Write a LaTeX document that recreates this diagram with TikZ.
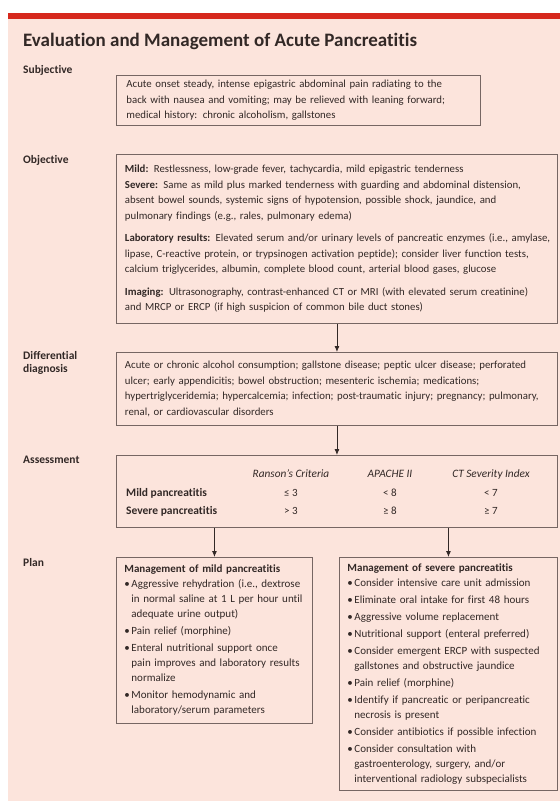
\documentclass[tikz,border=0pt]{standalone}
\usepackage{fontspec}
\setmainfont{Carlito}[Ligatures=NoCommon]
\usetikzlibrary{arrows.meta}
\definecolor{pinkbg}{RGB}{252,228,220}
\definecolor{redbar}{RGB}{214,40,28}
\definecolor{boxline}{RGB}{118,102,99}
\definecolor{inkcol}{RGB}{50,40,38}
\newcommand{\bitem}{\makebox[7pt][l]{\textbullet}}
\newcommand{\bcont}{\hspace*{7pt}}
\tikzset{
  sbox/.style={draw=boxline, line width=0.9pt, anchor=north west, inner xsep=8.5pt, inner ysep=0pt, align=left, text=inkcol, font=\fontsize{10.8}{15.5}\selectfont},
  pbox/.style={sbox, inner xsep=8pt, font=\fontsize{11}{15}\selectfont},
  slabel/.style={anchor=west, inner sep=0pt, align=left, text=inkcol, font=\fontsize{11.5}{13.5}\selectfont\bfseries},
  tcell/.style={inner sep=0pt, text=inkcol, font=\fontsize{11}{12}\selectfont},
  thead/.style={tcell, font=\fontsize{11.3}{12}\selectfont\itshape},
  trow/.style={tcell, anchor=west, font=\fontsize{11.5}{12}\selectfont\bfseries},
  sarrow/.style={draw=inkcol, line width=0.8pt, -{Latex[length=6pt,width=5pt]}}
}

\begin{document}
\begin{tikzpicture}[x=1pt,y=-1pt]
  \useasboundingbox (0,0) rectangle (560,804);
  \path[fill=pinkbg] (8,19) rectangle (560,801);
  \path[fill=redbar] (8,13) rectangle (560,19);
  \node[anchor=west, inner sep=0pt, text=inkcol, font=\fontsize{19}{21}\selectfont\bfseries] (title) at (23,41) {Evaluation and Management of Acute Pancreatitis};

  \node[slabel] (lsubj) at (23,70) {Subjective};
  \node[slabel] (lobj) at (23,160) {Objective};
  \node[slabel] (ldiff) at (23,363) {Differential\\diagnosis};
  \node[slabel] (lassess) at (23,460) {Assessment};
  \node[slabel] (lplan) at (23,562) {Plan};

  \node[sbox, inner xsep=10pt, text width=344pt, minimum height=50pt] (subj) at (116,75) {Acute onset steady, intense epigastric abdominal pain radiating to the\\
    back with nausea and vomiting; may be relieved with leaning forward;\\
    medical history: chronic alcoholism, gallstones};

  \node[sbox, text width=424pt, minimum height=169pt] (obj) at (116,154) {\textbf{Mild:} Restlessness, low-grade fever, tachycardia, mild epigastric tenderness\\
    \textbf{Severe:} Same as mild plus marked tenderness with guarding and abdominal distension,\\
    absent bowel sounds, systemic signs of hypotension, possible shock, jaundice, and\\
    pulmonary findings (e.g., rales, pulmonary edema)\\[7pt]
    \mbox{\textbf{Laboratory results:} Elevated serum and/or urinary levels of pancreatic enzymes (i.e., amylase,}\\
    lipase, C-reactive protein, or trypsinogen activation peptide); consider liver function tests,\\
    calcium triglycerides, albumin, complete blood count, arterial blood gases, glucose\\[7pt]
    \textbf{Imaging:} Ultrasonography, contrast-enhanced CT or MRI (with elevated serum creatinine)\\
    and MRCP or ERCP (if high suspicion of common bile duct stones)};

  \node[sbox, text width=424pt, minimum height=73pt] (diff) at (116,352) {Acute or chronic alcohol consumption; gallstone disease; peptic ulcer disease; perforated\\
    ulcer; early appendicitis; bowel obstruction; mesenteric ischemia; medications;\\
    hypertriglyceridemia; hypercalcemia; infection; post-traumatic injury; pregnancy; pulmonary,\\
    renal, or cardiovascular disorders};

  \node[sbox, minimum width=441pt, minimum height=72pt] (assess) at (116,455) {};
  \node[thead] (hranson) at (291,474) {Ranson's Criteria};
  \node[thead] (hapache) at (390,474) {APACHE II};
  \node[thead] (hct) at (491,474) {CT Severity Index};
  \node[trow] (rmild) at (126,493) {Mild pancreatitis};
  \node[trow] (rsevere) at (126,511) {Severe pancreatitis};
  \node[tcell] (mranson) at (291,493) {≤ 3};
  \node[tcell] (mapache) at (390,493) {< 8};
  \node[tcell] (mct) at (491,493) {< 7};
  \node[tcell] (sranson) at (291,511) {> 3};
  \node[tcell] (sapache) at (390,511) {≥ 8};
  \node[tcell] (sct) at (491,511) {≥ 7};

  \node[pbox, text width=180pt, minimum height=166pt] (mild) at (116,557) {\textbf{Management of mild pancreatitis}\\
    \bitem Aggressive rehydration (i.e., dextrose\\
    \bcont\mbox{in normal saline at 1 L per hour until}\\
    \bcont adequate urine output)\\[2pt]
    \bitem Pain relief (morphine)\\[2pt]
    \bitem Enteral nutritional support once\\
    \bcont\mbox{pain improves and laboratory results}\\
    \bcont normalize\\[2pt]
    \bitem Monitor hemodynamic and\\
    \bcont laboratory/serum parameters};

  \node[pbox, text width=202pt, minimum height=233pt] (severe) at (339,557) {\textbf{Management of severe pancreatitis}\\
    \bitem Consider intensive care unit admission\\[2pt]
    \bitem Eliminate oral intake for first 48 hours\\[2pt]
    \bitem Aggressive volume replacement\\[2pt]
    \bitem Nutritional support (enteral preferred)\\[2pt]
    \bitem Consider emergent ERCP with suspected\\
    \bcont gallstones and obstructive jaundice\\[2pt]
    \bitem Pain relief (morphine)\\[2pt]
    \bitem Identify if pancreatic or peripancreatic\\
    \bcont necrosis is present\\[2pt]
    \bitem \mbox{Consider antibiotics if possible infection}\\[2pt]
    \bitem Consider consultation with\\
    \bcont gastroenterology, surgery, and/or\\
    \bcont interventional radiology subspecialists};

  \draw[sarrow] (obj) -- (diff);
  \draw[sarrow] (diff) -- (assess);
  \draw[sarrow] (assess.south -| mild.north) -- (mild.north);
  \draw[sarrow] (assess.south -| severe.north) -- (severe.north);
\end{tikzpicture}
\end{document}
